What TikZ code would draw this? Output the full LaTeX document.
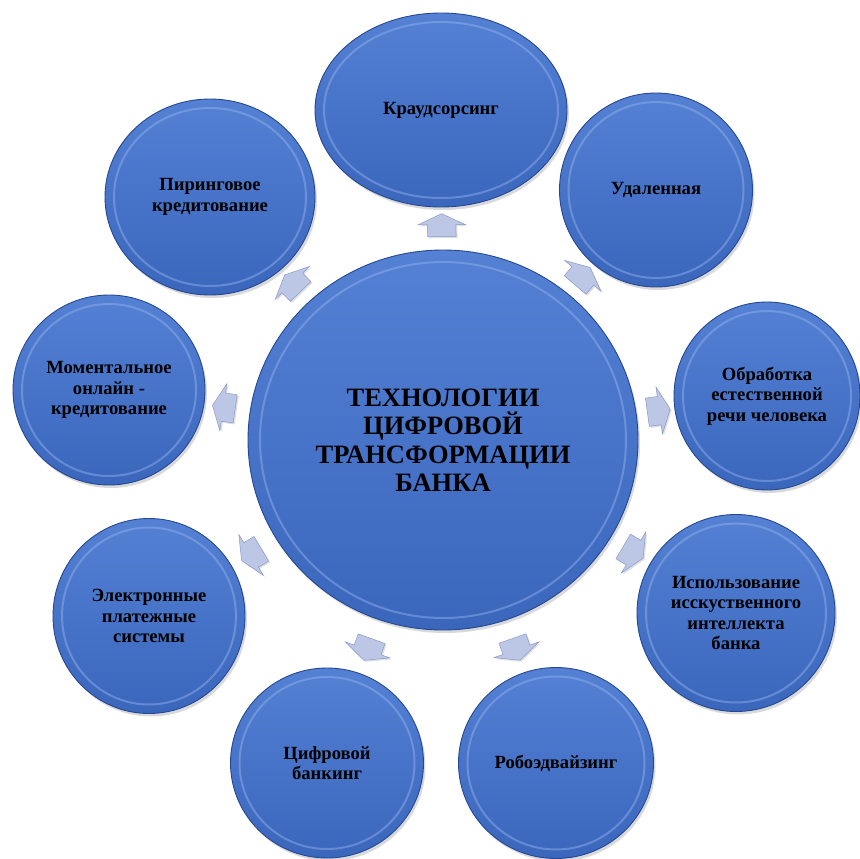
\documentclass[tikz,border=0pt]{standalone}
\usepackage{fontspec}
\setmainfont{Liberation Serif}
\usetikzlibrary{calc,shapes.geometric,shapes.arrows,shadows}

\definecolor{bubbletop}{RGB}{84,129,212}
\definecolor{bubblebot}{RGB}{58,102,188}
\definecolor{bubbleedge}{RGB}{38,72,146}
\definecolor{bubblerim}{RGB}{150,182,238}
\definecolor{pointerfill}{RGB}{188,199,230}
\definecolor{pointeredge}{RGB}{138,154,200}

\tikzset{rim gap/.store in=\rimgap, rim gap=9pt}

\begin{document}
\begin{tikzpicture}[x=1pt,y=-1pt,
    bubble/.style={ellipse, inner sep=0pt, align=center, rim gap=9pt,
        font=\bfseries\fontsize{18.6}{20.5}\selectfont,
        top color=bubbletop, bottom color=bubblebot,
        draw=bubbleedge, line width=0.9pt,
        drop shadow={shadow xshift=2pt, shadow yshift=-3pt, opacity=0.3},
        path picture={
            \draw[bubblerim, line width=2pt, opacity=0.45]
                let \p1=($(path picture bounding box.north east)-(path picture bounding box.center)$)
                in (path picture bounding box.center) ellipse [x radius=\x1-\rimgap, y radius=\y1-\rimgap];
        }},
    pointer/.style={single arrow, sloped, allow upside down,
        inner xsep=0pt, inner ysep=14pt, minimum height=23pt,
        single arrow head extend=9.5pt, single arrow tip angle=130,
        fill=pointerfill, draw=pointeredge, line width=0.5pt,
        drop shadow={shadow xshift=1.5pt, shadow yshift=-1.5pt, opacity=0.25}}]

    \useasboundingbox (0,0) rectangle (860,859);

    \node[bubble, minimum width=390pt, minimum height=380pt, rim gap=12pt,
          font=\bfseries\fontsize{26.5}{28.5}\selectfont] (hub) at (443,440)
          {ТЕХНОЛОГИИ\\ЦИФРОВОЙ\\ТРАНСФОРМАЦИИ\\БАНКА};

    \node[bubble, minimum width=252pt, minimum height=194pt] (crowd) at (441,110) {Краудсорсинг};
    \node[bubble, minimum width=193pt, minimum height=194pt] (remote) at (656,190) {Удаленная};
    \node[bubble, minimum width=186pt, minimum height=188pt] (nlp) at (767,396) {Обработка\\естественной\\речи человека};
    \node[bubble, minimum width=198pt, minimum height=197pt] (ai) at (736,613) {Использование\\исскуственного\\интеллекта\\банка};
    \node[bubble, minimum width=195pt, minimum height=191pt] (robo) at (556,763) {Робоэдвайзинг};
    \node[bubble, minimum width=193pt, minimum height=190pt] (digital) at (327,763) {Цифровой\\банкинг};
    \node[bubble, minimum width=192pt, minimum height=195pt] (payments) at (149,616) {Электронные\\платежные\\системы};
    \node[bubble, minimum width=192pt, minimum height=190pt] (instant) at (109,390) {Моментальное\\онлайн -\\кредитование};
    \node[bubble, minimum width=210pt, minimum height=196pt] (p2p) at (210,197) {Пиринговое\\кредитование};

    \path (hub) -- node[pointer] (to-crowd) {} (crowd);
    \path (hub) -- node[pointer] (to-remote) {} (remote);
    \path (hub) -- node[pointer] (to-nlp) {} (nlp);
    \path (hub) -- node[pointer] (to-ai) {} (ai);
    \path (hub) -- node[pointer] (to-robo) {} (robo);
    \path (hub) -- node[pointer] (to-digital) {} (digital);
    \path (hub) -- node[pointer] (to-payments) {} (payments);
    \path (hub) -- node[pointer] (to-instant) {} (instant);
    \path (hub) -- node[pointer] (to-p2p) {} (p2p);
\end{tikzpicture}
\end{document}
